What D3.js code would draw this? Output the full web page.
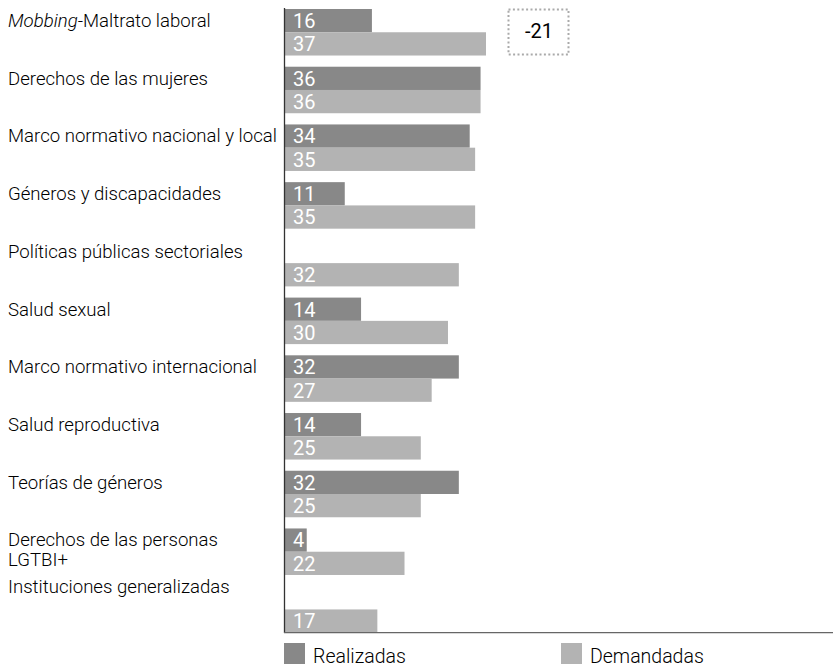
<!DOCTYPE html>
<html><head><meta charset="utf-8">
<script src="https://cdn.jsdelivr.net/npm/d3@7"></script>
<style>body{margin:0;background:#fff;} svg{display:block;font-family:Roboto, sans-serif;}</style>
</head><body>
<svg id="c" width="833" height="669"></svg>
<script>
const categories = [
  ["<i>Mobbing</i>-Maltrato laboral"],
  ["Derechos de las mujeres"],
  ["Marco normativo nacional y local"],
  ["Géneros y discapacidades"],
  ["Políticas públicas sectoriales"],
  ["Salud sexual"],
  ["Marco normativo internacional"],
  ["Salud reproductiva"],
  ["Teorías de géneros"],
  ["Derechos de las personas", "LGTBI+"],
  ["Instituciones generalizadas"]
];
const realizadas = [16, 36, 34, 11, null, 14, 32, 14, 32, 4, null];
const demandadas = [37, 36, 35, 35, 32, 30, 27, 25, 25, 22, 17];
const seriesNames = ["Realizadas", "Demandadas"];
const colors = ["#888888", "#b3b3b3"];
const note = "-21";

const svg = d3.select("#c");
const x0 = 285;
const x = d3.scaleLinear().domain([0, 37]).range([x0, 486]);
const y = d3.scaleBand().domain(d3.range(categories.length)).range([9, 632.7]).paddingInner(0.194).paddingOuter(0).align(0);
const sub = d3.scaleBand().domain([0, 1]).range([0, y.bandwidth()]);

const g = svg.append("g");
categories.forEach((lines, i) => {
  const gy = y(i);
  [realizadas[i], demandadas[i]].forEach((v, s) => {
    if (v == null) return;
    g.append("rect").attr("x", x(0)).attr("y", gy + sub(s)).attr("width", x(v) - x(0)).attr("height", sub.bandwidth()).attr("fill", colors[s]);
    g.append("text").attr("x", x(0) + 8).attr("y", gy + sub(s) + 19).attr("fill", "#fff").attr("font-size", 20).text(v);
  });
  const off = i === categories.length - 1 ? 7 : 18;
  const t = g.append("text").attr("x", 8).attr("y", gy + off).attr("font-size", 18.6).attr("font-weight", 300).attr("fill", "#000");
  lines.forEach((ln, k) => {
    const ts = t.append("tspan").attr("x", 8).attr("dy", k ? 20 : 0);
    const m = ln.match(/^<i>(.*)<\/i>(.*)$/);
    if (m) { ts.append("tspan").attr("font-style", "italic").text(m[1]); ts.append("tspan").text(m[2]); }
    else ts.text(ln);
  });
});

// axes
svg.append("line").attr("x1", 284.5).attr("x2", 284.5).attr("y1", 8).attr("y2", 633).attr("stroke", "#333").attr("stroke-width", 1.3);
svg.append("line").attr("x1", 284).attr("x2", 833).attr("y1", 632.7).attr("y2", 632.7).attr("stroke", "#666").attr("stroke-width", 1.3);

// note box
svg.append("rect").attr("x", 508.5).attr("y", 9.5).attr("width", 60).attr("height", 45).attr("fill", "none")
  .attr("stroke", "#aaa").attr("stroke-width", 2).attr("stroke-dasharray", "2,2.4");
svg.append("text").attr("x", 539).attr("y", 38).attr("text-anchor", "middle").attr("font-size", 20).attr("fill", "#000").text(note);

// legend
const lx = [284, 561];
seriesNames.forEach((n, s) => {
  svg.append("rect").attr("x", lx[s]).attr("y", 643).attr("width", 21).attr("height", 21).attr("fill", colors[s]);
  svg.append("text").attr("x", lx[s] + 29).attr("y", 663).attr("font-size", 19.5).attr("font-weight", 300).attr("fill", "#000").text(n);
});
</script>
</body></html>
